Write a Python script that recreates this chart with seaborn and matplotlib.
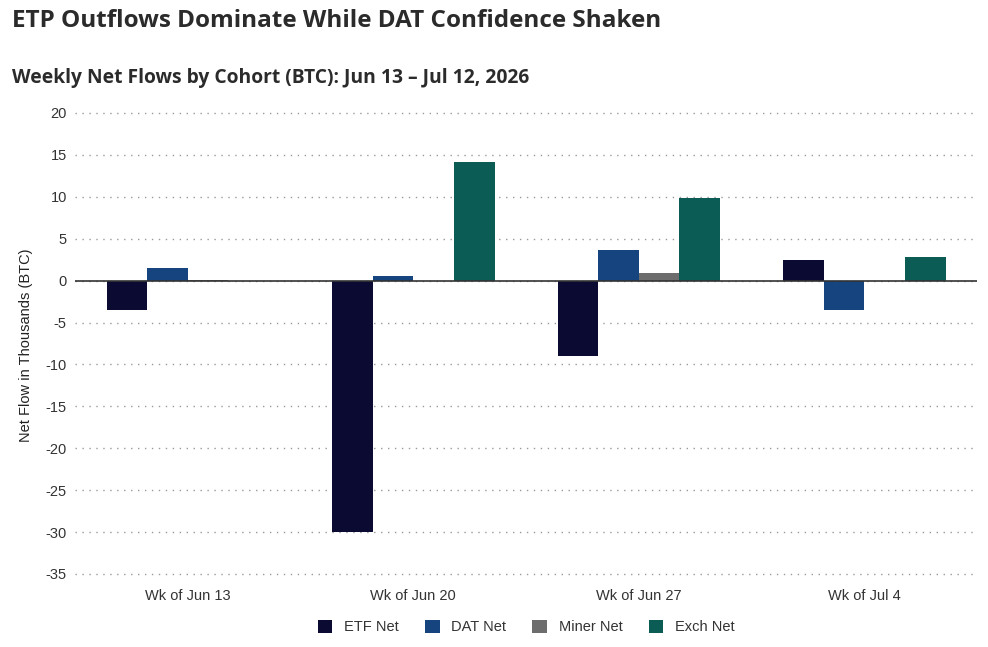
import matplotlib.pyplot as plt
import numpy as np
import pandas as pd
import seaborn as sns

weeks = ["Wk of Jun 13", "Wk of Jun 20", "Wk of Jun 27", "Wk of Jul 4"]
cohorts = ["ETF Net", "DAT Net", "Miner Net", "Exch Net"]
etf = [-3.5, -30.0, -9.0, 2.5]
dat = [1.5, 0.5, 3.6, -3.5]
miner = [0.1, 0.0, 0.9, -0.1]
exch = [0.0, 14.1, 9.9, 2.8]
colors = ["#0a0a33", "#15447e", "#6d6d6d", "#0b5c55"]

df = pd.DataFrame({"week": weeks, "ETF Net": etf, "DAT Net": dat,
                   "Miner Net": miner, "Exch Net": exch})
df = df.melt(id_vars="week", var_name="cohort", value_name="flow")

sns.set_style("white")
plt.rcParams["font.family"] = ["Liberation Sans", "DejaVu Sans"]
plt.rcParams["axes.unicode_minus"] = False

fig = plt.figure(figsize=(9.88, 6.47), dpi=100)
ax = fig.add_axes([0.076, 0.0934, 0.913, 0.745])

sns.barplot(data=df, x="week", y="flow", hue="cohort", hue_order=cohorts,
            palette=colors, width=0.72, gap=0, saturation=1, linewidth=0, ax=ax)

ax.set_ylim(-36.5, 21)
ax.set_yticks(np.arange(-35, 21, 5))
ax.tick_params(axis="both", length=0, labelsize=10.5, colors="#333333", pad=6)
ax.tick_params(axis="x", pad=2)
ax.set_xlabel("")
ax.set_ylabel("Net Flow in Thousands (BTC)", fontsize=10.5, color="#222222", labelpad=9)
ax.yaxis.grid(True, linestyle=(0, (1, 4)), color="#999999", linewidth=1)
ax.set_axisbelow(True)
ax.axhline(0, color="#333333", linewidth=1.2, zorder=3)
for s in ax.spines.values():
    s.set_visible(False)

ax.legend(loc="upper center", bbox_to_anchor=(0.5, -0.042), ncol=4, frameon=False,
          fontsize=10.5, handlelength=1.0, handleheight=1.0, columnspacing=1.8,
          handletextpad=0.8, labelcolor="#333333")

fig.text(0.012, 0.968, "ETP Outflows Dominate While DAT Confidence Shaken",
         fontsize=17.5, fontweight="bold", family="Open Sans", color="#2b2b2b", va="center")
fig.text(0.012, 0.879, "Weekly Net Flows by Cohort (BTC): Jun 13 \u2013 Jul 12, 2026",
         fontsize=13.9, fontweight="bold", family="Open Sans", color="#2b2b2b", va="center")

fig.savefig("out.png", dpi=100)
